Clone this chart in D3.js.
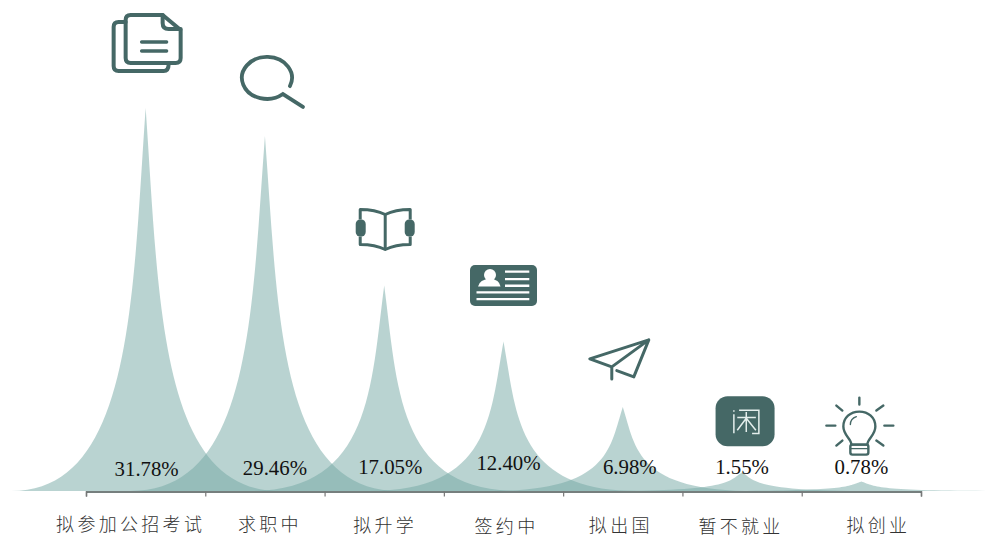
<!DOCTYPE html>
<html>
<head>
<meta charset="utf-8">
<script src="https://cdnjs.cloudflare.com/ajax/libs/d3/7.8.5/d3.min.js"></script>
<style>
html, body { margin: 0; padding: 0; background: #fff; overflow: hidden; }
svg { display: block; }
.val { font-family: "Liberation Serif", serif; font-size: 20.8px; fill: #111; text-anchor: middle; }
.cat { font-family: "Noto Sans CJK SC", sans-serif; font-size: 18px; font-weight: 300; fill: #333; text-anchor: middle; letter-spacing: 3.3px; }
</style>
</head>
<body>
<div id="chart"></div>
<script>
var categories = ["拟参加公招考试", "求职中", "拟升学", "签约中", "拟出国", "暂不就业", "拟创业"];
var values = [31.78, 29.46, 17.05, 12.40, 6.98, 1.55, 0.78];
var valueLabels = ["31.78%", "29.46%", "17.05%", "12.40%", "6.98%", "1.55%", "0.78%"];

// hand placed in the original, so nudges from the band centre
var valueDx = [1, 10, 6, 5, 7, 0, 0];
var valueBase = [476, 475, 474, 470, 474, 474, 474];
var catDx = [-15, 5, 1, 3, -2, -1, 17];
var catBase = [531, 531, 532, 533, 532, 533, 532];
var iconDx = [2, 2, 1, 0, -4, 3, -2];
var iconDy = [-65, -58, -57, -56, -48, -51, -56];
var iconNames = ["docs", "search", "book", "card", "plane", "xian", "bulb"];

var width = 986, height = 539;
var dark = "#456866";

var svg = d3.select("#chart").append("svg").attr("width", width).attr("height", height);

var x = d3.scaleBand().domain(categories).range([86, 921]);
var tickScale = d3.scaleLinear().domain([0, categories.length]).range([86, 921]);
var y = d3.scaleLinear().domain([0, 31.78]).range([491, 108]);

var halfW = 134;

function spike(d, i) {
    var cx = x(categories[i]) + x.bandwidth() / 2;
    var top = y(d), base = y(0), h = base - top;
    var p = d3.path();
    p.moveTo(cx - halfW, base);
    p.lineTo(cx + halfW, base);
    p.bezierCurveTo(cx + halfW * 0.1, base, cx + halfW * 0.1, top + h / 2, cx, top);
    p.bezierCurveTo(cx - halfW * 0.1, top + h / 2, cx - halfW * 0.1, base, cx - halfW, base);
    p.closePath();
    return p.toString();
}

svg.selectAll("path.spike").data(values).enter().append("path")
    .attr("class", "spike")
    .attr("d", spike)
    .attr("fill", "rgb(115,167,163)")
    .attr("fill-opacity", 0.5);

var axis = svg.append("g")
    .attr("transform", "translate(0," + 491.5 + ")")
    .call(d3.axisBottom(tickScale).ticks(categories.length).tickSize(5).tickSizeOuter(5).tickFormat(""));
axis.select(".domain").attr("stroke", "#4a5554").attr("stroke-width", 1.4);
axis.selectAll(".tick line").attr("stroke", "#777").attr("stroke-width", 1.2);

svg.selectAll("text.val").data(valueLabels).enter().append("text")
    .attr("class", "val")
    .attr("x", function(d, i) { return x(categories[i]) + x.bandwidth() / 2 + valueDx[i]; })
    .attr("y", function(d, i) { return valueBase[i]; })
    .text(function(d) { return d; });

svg.selectAll("text.cat").data(categories).enter().append("text")
    .attr("class", "cat")
    .attr("x", function(d, i) { return x(d) + x.bandwidth() / 2 + catDx[i]; })
    .attr("y", function(d, i) { return catBase[i]; })
    .text(function(d) { return d; });

// icons, each drawn around its own origin
var icons = {
    docs: function(g) {
        var s = g.attr("fill", "none").attr("stroke", dark).attr("stroke-width", 4).attr("stroke-linecap", "round").attr("stroke-linejoin", "round");
        s.append("path").attr("d", "M-17,-28 H15 L33,-13 V15 Q33,20 28,20 H-17 Q-22,20 -22,15 V-23 Q-22,-28 -17,-28 Z");
        s.append("path").attr("d", "M15,-28 V-20 Q15,-14 21,-14 H33");
        s.append("path").attr("d", "M-22,-21 H-29 Q-34,-21 -34,-16 V23 Q-34,28 -29,28 H16 Q21,28 21,21");
        s.append("path").attr("d", "M-6,-1 H19 M-6,8 H19").attr("stroke-width", 3.4);
    },
    search: function(g) {
        var s = g.attr("fill", "none").attr("stroke", dark).attr("stroke-width", 3.8).attr("stroke-linecap", "round");
        s.append("path").attr("d", "M23,8.2 A25,21 0 1 0 16,16.1 L36,29");
    },
    book: function(g) {
        var s = g.attr("fill", "none").attr("stroke", dark).attr("stroke-width", 3).attr("stroke-linejoin", "round");
        s.append("path").attr("d", "M-25,-9 V-19 Q-10,-19 0,-14 Q10,-19 25,-19 V-9");
        s.append("path").attr("d", "M-25,8 V16 Q-10,16 0,21 Q10,16 25,16 V8");
        s.append("path").attr("d", "M0,-14 V21");
        s.append("rect").attr("x", -29.5).attr("y", -9).attr("width", 10).attr("height", 17).attr("rx", 4.5).attr("fill", dark).attr("stroke", "none");
        s.append("rect").attr("x", 19.5).attr("y", -9).attr("width", 10).attr("height", 17).attr("rx", 4.5).attr("fill", dark).attr("stroke", "none");
    },
    card: function(g) {
        g.append("rect").attr("x", -33.5).attr("y", -20.5).attr("width", 67).attr("height", 41).attr("rx", 5).attr("fill", dark);
        g.append("circle").attr("cx", -13.5).attr("cy", -10.5).attr("r", 6).attr("fill", "#fff");
        g.append("path").attr("d", "M-25.5,1 Q-24,-6 -13.5,-7 Q-4,-6 -3,1 Z").attr("fill", "#fff");
        g.append("path").attr("d", "M1.5,-14 H25.8 M1.5,-6.5 H25.8 M1.5,0.2 H25.8 M-27,6.8 H25.8 M-27,13.5 H25.8")
            .attr("stroke", "#fff").attr("stroke-width", 2.3).attr("fill", "none");
    },
    plane: function(g) {
        g.append("path").attr("d", "M30,-19 L-29,0 L-7,8 L30,-19 L15,18 L-2,11.7 M-7,8 L-7,20")
            .attr("fill", "none").attr("stroke", dark).attr("stroke-width", 3).attr("stroke-linecap", "round").attr("stroke-linejoin", "round");
    },
    xian: function(g) {
        g.append("rect").attr("x", -29.5).attr("y", -25).attr("width", 59).attr("height", 50).attr("rx", 12).attr("fill", dark);
        g.append("path").attr("d", "M-6,-11 H13.8 V12.3 H7 M-11.2,-7 V12 M-11.2,-11 V-9.5 M-7.8,-3.7 H10.8 M1.2,-9.3 V10.7 M1.2,-3 L-7.8,9 M1.2,-3 L10.8,9")
            .attr("fill", "none").attr("stroke", "#e4eeec").attr("stroke-width", 1.5);
    },
    bulb: function(g) {
        var s = g.attr("fill", "none").attr("stroke", dark).attr("stroke-width", 2.4).attr("stroke-linecap", "round");
        s.append("path").attr("d", "M0,-28 V-21 M-33,0 H-24 M25,0 H34 M-23,-20 L-17,-15 M24,-20 L17,-15 M-23,20 L-17,15 M24,20 L17,15");
        s.append("path").attr("d", "M-8,19 C-8,13 -16,10 -16,1 C-16,-8 -9,-14 0,-14 C9,-14 16,-8 16,1 C16,10 8,13 8,19 Z");
        s.append("path").attr("d", "M-9,-1 Q-9,-7 -3,-9").attr("stroke-width", 1.4);
        s.append("rect").attr("x", -9).attr("y", 19).attr("width", 18).attr("height", 10).attr("rx", 2);
        s.append("path").attr("d", "M-9,23 H9").attr("stroke-width", 1.4);
    }
};

iconNames.forEach(function(name, i) {
    var g = svg.append("g")
        .attr("transform", "translate(" + (x(categories[i]) + x.bandwidth() / 2 + iconDx[i]) + "," + (y(values[i]) + iconDy[i]) + ")");
    icons[name](g);
});
</script>
</body>
</html>
